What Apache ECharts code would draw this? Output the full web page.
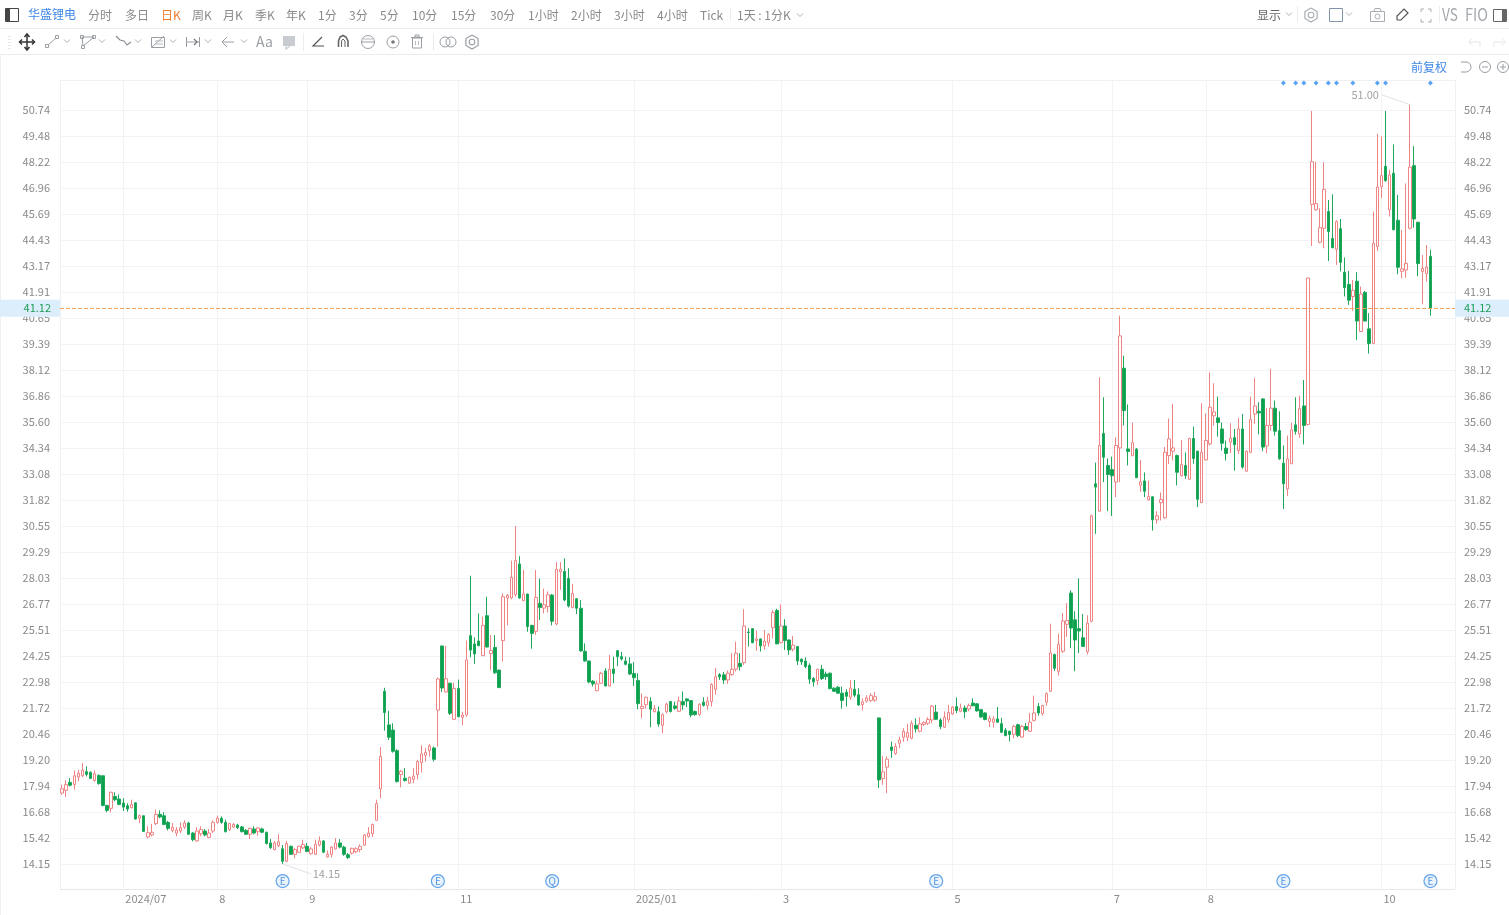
<!DOCTYPE html>
<html><head><meta charset="utf-8">
<style>html,body{margin:0;padding:0;background:#fff}#c{width:1509px;height:915px}</style>
<script src="https://cdn.jsdelivr.net/npm/echarts@6/dist/echarts.min.js"></script>
</head><body><div id="c"></div>
<script>
// candles: [open, close, low, high], in date order
const candles2024a = [[17.59,17.80,17.51,18.00],[17.72,18.0,17.4,18.21],[18.11,17.97,17.92,18.32],[18.01,18.43,17.76,18.69],[18.37,18.56,18.16,18.73],[18.43,18.71,18.37,19.05],[18.63,18.5,18.4,18.89],[18.6,18.3,18.27,18.65],[18.2,18.53,18.14,18.69],[18.45,18.05,18.0,18.5],
[18.43,16.99,16.95,18.45],[16.99,16.75,16.66,17.03],[16.85,17.63,16.66,17.66],[17.43,17.27,17.2,17.63],[17.3,17.04,17.0,17.53],[17.11,16.91,16.72,17.34],[16.98,16.82,16.69,17.1],[16.88,17.04,16.85,17.27],[17.12,16.33,16.3,17.14],[16.37,16.49,16.14,16.56],
[16.49,15.73,15.7,16.5],[15.46,15.67,15.4,15.98],[15.56,15.69,15.49,16.1],[16.11,16.56,16.04,16.79],[16.56,16.43,16.37,16.75],[16.49,16.07,16.03,16.66],[16.17,15.88,15.78,16.24],[15.78,15.93,15.69,16.14],[15.65,15.8,15.49,15.94],[15.75,15.91,15.65,16.17],
[15.94,16.14,15.85,16.27],[16.14,15.59,15.55,16.2],[15.65,15.33,15.25,15.7],[15.27,15.75,15.23,15.94],[15.62,15.82,15.49,15.98],[15.75,15.56,15.49,15.85],[15.44,15.65,15.4,15.85],[15.75,16.17,15.65,16.27],[16.17,16.37,16.1,16.5],[16.37,16.17,16.1,16.46]];
const candles2024b = [[16.17,15.72,15.68,16.3],[15.82,16.11,15.75,16.14],[15.94,16.07,15.9,16.14],[16.04,15.91,15.85,16.1],[15.95,15.72,15.68,16.0],[15.78,15.59,15.56,15.85],[15.59,15.88,15.36,15.91],[15.85,15.65,15.59,15.98],[15.72,15.9,15.52,15.92],[15.85,15.69,15.65,15.91],
[15.69,15.14,15.1,15.72],[15.17,14.94,14.88,15.36],[14.85,15.17,14.81,15.27],[15.04,15.23,14.97,15.59],[14.89,14.28,14.15,15.07],[14.28,15.14,14.25,15.27],[15.01,14.62,14.59,15.04],[14.62,14.85,14.42,14.93],[14.72,15.01,14.68,15.04],[14.93,15.1,14.88,15.33],
[15.01,14.76,14.72,15.17],[14.65,14.88,14.6,14.97],[14.62,15.1,14.59,15.33],[15.07,15.27,15.0,15.49],[15.27,14.72,14.68,15.3],[14.49,14.62,14.46,14.81],[14.62,14.97,14.46,15.0],[14.88,15.17,14.85,15.4],[15.17,14.97,14.91,15.36],[14.97,14.62,14.55,15.04],
[14.6,14.46,14.39,14.68],[14.68,14.91,14.6,14.94],[14.75,14.89,14.68,14.97],[14.85,15.01,14.72,15.1],[15.07,15.56,15.03,15.6],[15.49,15.65,15.43,15.94],[15.62,16.07,15.46,16.11],[16.27,17.08,16.24,17.27],[17.79,19.37,17.34,19.83]];
const candles2024c = [[22.53,21.5,20.62,22.7],[20.9,20.3,20.17,21.59],[20.65,19.62,19.55,20.98],[19.65,18.15,18.1,19.72],[18.49,18.65,17.87,18.71],[18.31,18.2,18.15,18.8],[18.07,18.36,18.04,18.39],[18.26,18.42,18.07,18.8],[18.49,19.12,18.26,19.2],[19.07,19.49,18.59,19.91],
[19.43,19.56,19.12,19.77],[19.65,19.88,19.36,19.98],[19.78,19.23,19.12,19.85]];
const candles2024d = [[21.62,23.13,19.85,23.2],[24.73,22.69,22.5,24.75],[22.5,23.14,22.47,24.73],[22.92,21.46,21.38,22.95],[21.17,22.67,21.14,22.95],[22.67,21.3,21.27,23.1],[21.27,21.38,20.88,21.54],[21.38,24.05,21.3,24.99],[25.23,24.53,24.18,28.14],[24.83,24.34,23.86,25.15],
[24.97,24.74,24.73,26.31],[24.26,25.73,24.24,26.15],[26.2,24.68,24.66,27.12],[24.36,24.52,23.56,25.26],[24.66,23.43,23.37,25.26],[23.56,22.71,22.69,23.58],[24.99,27.12,23.98,27.28],[27.06,27.19,25.73,27.25],[27.06,28.06,26.99,28.87],[27.22,28.88,27.12,30.55],
[28.71,27.06,27.02,29.09],[26.93,27.25,26.91,28.42],[27.25,25.67,25.42,27.27],[25.73,25.34,24.6,25.76],[25.44,27.09,25.26,28.42],[26.8,26.6,25.99,28.0],[26.57,26.73,26.31,27.51],[26.64,27.22,26.35,27.38],[27.2,25.93,25.73,27.25],[25.8,28.45,25.73,28.8],
[28.33,28.45,27.45,28.8],[28.35,26.96,26.9,28.98],[28.01,26.67,26.6,28.5],[26.6,27.28,26.56,27.74],[27.02,26.56,26.28,27.06],[26.56,24.49,24.45,26.96],[24.47,24.0,23.97,24.86],[24.0,22.98,22.92,24.02],[23.02,22.89,22.76,23.08],[22.56,22.89,22.53,23.05]];
const candles2025a = [[22.92,23.4,22.89,23.47],[23.52,22.79,22.76,23.65],[22.79,23.6,22.76,24.29],[23.61,23.4,22.92,24.21],[24.5,24.21,23.76,24.53],[24.21,24.1,24.02,24.44],[24.0,23.84,23.79,24.21],[23.86,23.37,23.32,24.18],[23.39,23.19,22.79,23.95],[23.06,21.93,21.66,23.4],
[21.69,21.8,21.22,22.43],[21.88,22.24,21.69,22.27],[22.04,21.66,20.78,22.24],[21.54,21.69,21.51,21.87],[21.54,20.94,20.81,21.79],[20.88,21.4,20.49,21.46],[21.54,21.91,21.46,21.98],[22.03,21.55,21.5,22.06],[21.82,21.71,21.63,22.03],[21.56,22.06,21.53,22.27],
[22.03,21.87,21.63,22.52],[22.16,22.06,21.76,22.19],[22.08,21.38,21.27,22.11],[21.55,21.4,21.34,21.6],[21.4,21.9,21.34,21.95],[22.0,21.85,21.79,22.24],[21.84,22.05,21.63,22.27],[22.03,22.86,21.79,22.92],[22.63,23.24,22.36,23.65],[23.34,23.23,23.08,23.41],
[23.33,23.08,22.89,23.47],[23.08,23.41,22.89,23.54],[23.34,23.6,23.28,24.38],[23.6,24.38,23.49,24.94],[23.89,23.73,23.54,24.38],[23.92,25.7,23.81,26.51],[25.4,25.38,24.7,25.59],[25.57,24.89,24.86,25.6],[24.99,25.07,24.5,25.47],[25.07,24.73,24.46,25.1]];
const candles2025b = [[24.73,24.96,24.54,25.51],[24.89,25.28,24.7,25.35],[25.62,26.35,25.1,26.48],[26.45,24.83,24.83,26.54],[24.89,25.7,24.86,26.74],[25.7,24.99,24.54,26.03],[25.02,24.54,24.3,25.05],[24.57,24.77,24.46,25.22],[24.7,24.0,23.81,24.73],[24.09,23.96,23.81,24.13],
[24.0,23.73,23.65,24.18],[23.79,23.12,22.89,23.89],[23.15,22.99,22.76,23.22],[23.05,23.6,22.84,23.63],[23.6,23.15,23.08,23.81],[23.37,23.24,23.08,23.49],[23.41,22.66,22.63,23.44],[22.68,22.53,22.5,22.73],[22.73,22.44,22.4,22.79],[22.44,22.08,21.69,22.76],
[22.49,22.29,21.79,22.63],[22.24,22.69,22.11,23.08],[22.63,22.34,22.24,23.08],[22.36,21.87,21.82,22.68],[21.89,22.02,21.6,22.18],[22.05,22.21,21.98,22.34],[22.08,22.32,22.02,22.44],[22.1,22.27,22.02,22.5],[21.24,18.23,17.84,21.24],[18.3,18.62,17.99,19.4],
[18.85,19.24,17.59,19.37],[19.83,19.66,19.3,20.09],[19.51,19.85,19.45,20.01],[20.01,20.17,19.77,20.33],[20.3,20.59,20.08,20.74],[20.3,20.53,20.11,20.95],[20.25,20.98,20.2,21.11],[20.88,20.71,20.53,21.22],[20.59,20.95,20.53,21.27],[20.92,21.01,20.85,21.08]];
const candles2025c = [[20.98,21.17,20.9,21.27],[21.14,21.81,20.98,21.87],[21.52,21.17,21.14,21.87],[21.14,20.82,20.69,21.22],[20.79,21.27,20.75,21.55],[21.14,21.5,21.01,21.87],[21.43,21.76,21.38,21.82],[21.79,21.6,21.47,22.23],[21.56,21.72,21.51,21.93],[21.72,21.54,21.22,21.84],
[21.67,21.84,21.56,21.93],[21.96,21.83,21.8,22.19],[21.92,21.58,21.54,21.96],[21.64,21.28,21.25,21.67],[21.48,21.16,21.12,21.51],[21.07,21.22,20.8,21.35],[21.03,21.19,20.77,21.32],[21.19,21.03,21.0,21.77],[20.96,20.54,20.51,21.24],[20.64,20.38,20.35,20.75],
[20.59,20.43,20.09,20.62],[20.44,20.83,20.25,20.9],[20.91,20.38,20.31,20.96],[20.31,20.83,20.28,20.9],[20.82,20.67,20.61,20.99],[20.59,21.03,20.56,21.48],[21.12,21.48,21.06,22.32],[21.79,21.48,21.35,21.96],[21.45,21.84,21.35,21.88],[22.0,22.42,21.83,22.48],
[22.53,24.39,22.5,25.81],[24.31,23.65,23.52,24.36],[23.5,24.81,23.29,25.33],[24.47,25.94,24.39,26.33],[25.78,25.97,25.17,26.81],[27.3,25.6,24.63,27.43],[26.0,25.02,23.5,26.41],[25.57,25.46,24.39,28.01],[25.13,24.71,24.68,26.28],[24.45,25.84,24.32,26.22],[25.93,31.05,25.88,31.1]];
const candles2025d = [[32.6,32.44,30.17,33.63],[31.27,34.46,31.27,37.77],[35.04,33.89,32.68,36.8],[33.49,33.05,31.27,33.83],[33.29,32.99,31.04,33.92],[32.68,34.46,31.95,34.86],[34.34,39.78,32.68,40.76],[38.21,36.15,35.43,38.82],[34.29,34.17,33.49,36.45],[33.96,34.6,33.96,35.57],
[34.28,32.9,32.87,34.34],[32.53,32.69,32.21,33.76],[32.74,32.24,31.95,33.15],[31.82,31.98,31.79,32.76],[31.97,30.85,30.33,31.98],[30.85,31.05,30.66,31.27],[31.68,31.84,30.82,32.18],[30.95,34.13,30.9,34.38],[33.97,34.78,33.56,35.77],[34.18,34.34,33.73,36.48],
[33.97,33.16,32.52,34.02],[32.99,33.54,32.95,34.73],[33.49,33.0,32.84,34.12],[32.82,34.8,32.79,34.83],[34.8,33.83,33.57,35.38],[34.18,31.85,31.47,34.21],[31.69,34.13,31.66,36.51],[33.76,34.7,33.73,36.02],[34.54,36.32,34.46,38.0],[35.9,36.09,35.43,37.48],
[35.8,35.57,34.89,36.83],[35.26,34.57,34.21,35.57],[34.33,34.07,33.73,34.7],[34.62,34.81,34.09,35.54],[34.84,34.5,33.24,35.26],[34.21,35.26,34.05,35.8],[35.26,33.41,33.33,35.99],[33.21,34.18,33.2,34.21],[34.13,35.72,34.09,36.83],[35.99,36.38,35.51,37.74],
[36.12,36.04,35.0,36.56],[36.72,34.38,34.18,36.75],[34.44,35.43,34.09,36.28],[35.43,36.27,35.18,38.18],[36.27,35.15,34.94,36.64],[35.18,33.81,33.76,36.12],[33.6,32.6,31.38,34.46],[32.35,33.81,32.0,34.94],[33.57,35.22,33.57,35.56],[35.46,35.15,34.99,36.8],[35.02,36.25,34.83,36.88],[36.38,35.43,34.51,37.64],[35.48,42.59,35.43,42.59]];
const candles2025e = [[46.16,48.23,44.14,50.69],[45.9,46.2,45.85,48.23],[44.32,45.03,44.27,45.97],[45.0,46.89,44.03,48.2],[45.81,44.84,43.41,46.37],[44.51,44.06,44.03,46.65],[43.98,45.32,43.22,45.39],[44.98,43.35,42.9,45.45],[42.87,42.12,41.69,43.58],[42.28,41.51,41.28,42.93],
[41.69,41.99,40.99,42.49],[42.43,40.5,39.57,42.87],[39.99,41.81,39.99,42.17],[41.89,40.5,40.47,41.96],[40.12,39.41,38.92,40.88],[39.41,44.27,39.41,45.81],[44.11,47.0,43.9,49.59],[47.02,47.55,46.46,49.46],[48.01,47.31,47.26,50.69],[45.9,47.59,45.57,47.83],
[47.67,44.93,44.9,49.07],[45.39,43.11,42.77,46.62],[42.91,43.03,42.57,44.92],[42.97,43.3,42.6,47.18],[45.0,47.97,44.95,51.0],[48.04,45.45,45.03,48.99],[45.29,43.29,42.67,45.32],[42.9,43.06,41.31,43.7],[42.8,43.12,42.41,44.19],[43.64,41.12,40.76,43.96]];
const candles = [].concat(candles2024a,candles2024b,candles2024c,candles2024d,candles2025a,candles2025b,candles2025c,candles2025d,candles2025e);

// axis
const tickValues = [14.15,15.42,16.68,17.94,19.20,20.46,21.72,22.98,24.25,25.51,26.77,28.03,29.29,30.55,31.82,33.08,34.34,35.60,36.86,38.12,39.39,40.65,41.91,43.17,44.43,45.69,46.96,48.22,49.48,50.74];
const slotCount = 342;
const categories = Array.from({length:slotCount},(_,i)=>String(i));
const monthIndex = [15,38,60,97,140,176,218,257,280,323];
const monthLabels = ['2024/07','8','9','11','2025/01','3','5','7','8','10'];
const lastPrice = 41.12;
const yMin = 12.936, yMax = 52.196;
// event badges and dividend markers
const badgeIndex = [54,92,120,214,299,335];
const badgeText = ['E','E','Q','E','E','E'];
const dotIndex = [299,302,304,307,310,312,316,322,324,335];
const dotPrice = 52.05, badgePrice = 13.32;
const highLeader = [[323,51.48],[330,51.0]];
const lowLeader = [[54,14.15],[61,13.66]];

// toolbar texts
const topLabels = ['分时','多日','日K','周K','月K','季K','年K','1分','3分','5分','10分','15分','30分','1小时','2小时','3小时','4小时','Tick','1天 : 1分K'];
const topX = [88,125,161,192,223,255,286,318,349,380,412,451,490,528,571,614,657,700,737];

const F='"Noto Sans CJK SC","Noto Sans",sans-serif';
const g=[];
const txt=(t,x,y,fill,size,extra)=>g.push({type:'text',silent:true,style:Object.assign({text:t,x,y,fill,font:(size||12)+'px '+F,verticalAlign:'middle'},extra||{})});
const ln=(pts,stroke,w)=>g.push({type:'polyline',silent:true,shape:{points:pts},style:{stroke:stroke||'#999',lineWidth:w||1,fill:null}});
const rc=(x,y,w,h,stroke,fill,lw)=>g.push({type:'rect',silent:true,shape:{x,y,width:w,height:h},style:{stroke:stroke||null,fill:fill||null,lineWidth:lw||1}});
const ci=(cx,cy,r,stroke,fill,lw)=>g.push({type:'circle',silent:true,shape:{cx,cy,r},style:{stroke:stroke||null,fill:fill||null,lineWidth:lw||1}});
const caret=(x,y)=>ln([[x-3,y-1.5],[x,y+1.5],[x+3,y-1.5]],'#aab0b8',1);
const hexa=(x,y,r,c)=>{ln([[x,y-r],[x+r*.87,y-r/2],[x+r*.87,y+r/2],[x,y+r],[x-r*.87,y+r/2],[x-r*.87,y-r/2],[x,y-r]],c,1.2);ci(x,y,r*.4,c,null,1.1)};
// plot frame
ln([[60.5,80],[60.5,889]],'#eef0f3');ln([[60,80.5],[1455,80.5]],'#eef0f3');ln([[1455.5,80],[1455.5,889]],'#eef0f3');ln([[60,889.5],[1455,889.5]],'#e6e8ec');
// dividers
ln([[0,28.5],[1509,28.5]],'#ececec');ln([[0,54.5],[1509,54.5]],'#ececec');ln([[.5,55],[.5,915]],'#f0f0f0');
ln([[730.5,8],[730.5,21]],'#ececec');ln([[1297.5,6],[1297.5,23]],'#ececec');ln([[1439.5,6],[1439.5,23]],'#ececec');ln([[303.5,33],[303.5,51]],'#ececec');ln([[433.5,33],[433.5,51]],'#ececec');
// row 1
rc(5.5,8.5,13,13,'#444');rc(6,9,4,12,null,'#444');
txt('华盛锂电',28,14,'#3f87e5');
topLabels.forEach((t,i)=>txt(t,topX[i],15,t==='日K'?'#f07d2e':'#8a8a8a'));
caret(800,15);
txt('显示',1257,15,'#666');caret(1289,14);hexa(1311,15,7,'#a9adb3');
rc(1329.5,8.5,13,13,'#8295ad');caret(1349,14);
rc(1370.5,11.5,14,10,'#a9adb3');ln([[1374,11],[1375,8.5],[1380,8.5],[1381,11]],'#a9adb3');ci(1377.5,16.5,2.5,'#a9adb3');
ln([[1397,20],[1397,16],[1404,9],[1408,13],[1401,20],[1397,20]],'#555',1.2);
[[1421,9,1],[1431,9,-1]].forEach(([x,y,d])=>{ln([[x,y+3],[x,y],[x+3*d,y]],'#a9adb3');ln([[x,y+10],[x,y+13],[x+3*d,y+13]],'#a9adb3')});
g.push({type:'text',silent:true,x:1442,y:15,scaleX:.8,style:{text:'VS',x:0,y:0,fill:'#a5a9af',font:'17px '+F,verticalAlign:'middle'}});
g.push({type:'text',silent:true,x:1465,y:15,scaleX:.85,style:{text:'FIO',x:0,y:0,fill:'#a5a9af',font:'17px '+F,verticalAlign:'middle'}});
rc(1493.5,9.5,13,12,'#666');rc(1502,10,4,11,null,'#666');
// row 2
[36,39,42,45,48].forEach(y=>ln([[8,y+.5],[11,y+.5]],'#e4e6ea'));
ln([[27,35],[27,49]],'#333',1.5);ln([[20,42],[34,42]],'#333',1.5);
ln([[24.5,37],[27,34],[29.5,37]],'#333',1.5);ln([[24.5,47],[27,50],[29.5,47]],'#333',1.5);ln([[22,39.5],[19.5,42],[22,44.5]],'#333',1.5);ln([[32,39.5],[34.5,42],[32,44.5]],'#333',1.5);
rc(45.5,44.5,3,3,'#9a9ea4');rc(55.5,35.5,3,3,'#9a9ea4');ln([[48,45],[56,38]],'#9a9ea4');caret(67,41);
ln([[82,37],[94,37],[83,46],[82,37]],'#9a9ea4');rc(80.5,35.5,3,3,'#9a9ea4');rc(92.5,35.5,3,3,'#9a9ea4');rc(81.5,45.5,3,3,'#9a9ea4');caret(102,41);
ln([[116,36],[120,40],[124,41],[127,45],[131,42]],'#8a8e94',1.2);caret(138,41);
rc(151.5,37.5,13,10,'#9a9ea4');ln([[152,47],[164,36]],'#9a9ea4');ln([[155,41],[163,41]],'#b5b8bd');ln([[155,44],[163,44]],'#b5b8bd');caret(173,41);
ln([[186.5,37],[186.5,47]],'#9a9ea4');ln([[187,42],[199,42]],'#9a9ea4');ln([[199.5,37],[199.5,47]],'#9a9ea4');ln([[194,39],[197,42],[194,45]],'#777',1.2);caret(208,41);
ln([[222,42],[234,42]],'#9a9ea4');ln([[227,37],[222,42],[227,47]],'#9a9ea4');caret(244,41);
txt('Aa',256,42,'#9a9ea4',14);
rc(283,36,12,10,null,'#c8cbd0');ln([[286,46],[286,49],[290,46]],'#c8cbd0',1.2);
ln([[322,37],[313,46],[324,46]],'#555',1.2);
ln([[338.5,47],[338.5,41],[340,37],[343,35.5],[346,37],[348,41],[348,47]],'#666',1.6);ln([[341.5,47],[341.5,41],[343,39],[345,41],[345,47]],'#666',1);
ci(368,42,6.5,'#9a9ea4');ln([[361,42],[375,42]],'#9a9ea4');ln([[363,39],[373,39]],'#b5b8bd');
ci(393,42,6,'#9a9ea4');ci(393,42,1.8,null,'#777');
ln([[411,37.5],[423,37.5]],'#9a9ea4');rc(412.5,38,9,10,'#9a9ea4');rc(415,35,4,2,'#9a9ea4');ln([[415.5,41],[415.5,45]],'#b5b8bd');ln([[418.5,41],[418.5,45]],'#b5b8bd');
ci(445,42,5,'#9a9ea4');ci(451,42,5,'#9a9ea4');hexa(472,42,7,'#9a9ea4');
ln([[1469,42],[1480,42],[1480,47]],'#e4e6ea');ln([[1472,38.5],[1468.5,42],[1472,45.5]],'#e4e6ea');
ln([[1505,42],[1494,42],[1494,47]],'#e4e6ea');ln([[1502,38.5],[1505.5,42],[1502,45.5]],'#e4e6ea');
// row 3
txt('前复权',1411,67,'#3f87e5');
g.push({type:'arc',silent:true,shape:{cx:1466,cy:67,r:5,startAngle:-1.6,endAngle:1.6},style:{stroke:'#9a9ea4',fill:null}});ln([[1461,62],[1466,62]],'#9a9ea4');ln([[1461,72],[1466,72]],'#9a9ea4');
ci(1485,67,5.5,'#9a9ea4');ln([[1482,67],[1488,67]],'#9a9ea4');
ci(1503,67,5.5,'#9a9ea4');ln([[1500,67],[1506,67]],'#9a9ea4');ln([[1503,64],[1503,70]],'#9a9ea4');

const monthSet = new Set(monthIndex);
const noteLabel = {color:'#8a8a8a',fontSize:11,fontFamily:F};
const chart = echarts.init(document.getElementById('c'),null,{renderer:'canvas'});
const yAxisCommon = {type:'value',min:yMin,max:yMax,scale:true,
  axisLine:{show:false},
  axisTick:{show:false,customValues:tickValues}};
const yLabel = {customValues:tickValues,formatter:v=>v.toFixed(2),color:'#8a8a8a',fontSize:11,fontFamily:F,showMinLabel:true,showMaxLabel:true};
chart.setOption({
  animation:false,backgroundColor:'#fff',
  graphic:{elements:g},
  grid:{left:60,right:52,top:80,bottom:26,show:false,containLabel:false},
  xAxis:{type:'category',data:categories,boundaryGap:true,
    axisLine:{show:false},axisTick:{show:false},
    axisLabel:{interval:(i)=>monthSet.has(i),formatter:(v,i)=>{const k=monthIndex.indexOf(i);return k>=0?monthLabels[k]:''},color:'#8a8a8a',fontSize:11,fontFamily:F,align:'left',margin:4,padding:[0,0,0,2],hideOverlap:false},
    splitLine:{show:true,interval:(i)=>monthSet.has(i),alignWithLabel:true,lineStyle:{color:'#f1f3f6',width:1}}},
  yAxis:[
    Object.assign({},yAxisCommon,{position:'left',axisLabel:Object.assign({},yLabel,{margin:10}),splitLine:{show:true,lineStyle:{color:'#f1f3f6',width:1}}}),
    Object.assign({},yAxisCommon,{position:'right',axisLabel:Object.assign({},yLabel,{margin:7}),splitLine:{show:false}})
  ],
  series:[
    {type:'candlestick',data:candles,barWidth:3,
      itemStyle:{color:'#ffffff',color0:'#0ba14e',borderColor:'#ee8484',borderColor0:'#1fa85c',borderWidth:1},
      markLine:{silent:true,symbol:'none',animation:false,precision:2,
        lineStyle:{color:'#f3a35c',type:'dashed',width:1},
        data:[
          {yAxis:lastPrice,label:{show:true,position:'start',distance:0,formatter:lastPrice.toFixed(2),color:'#1f9d55',fontSize:11,fontFamily:F,backgroundColor:'#dcedfb',padding:[3,9,3,30]}},
          {yAxis:lastPrice,label:{show:true,position:'end',distance:-2,formatter:lastPrice.toFixed(2),color:'#1f9d55',fontSize:11,fontFamily:F,backgroundColor:'#dcedfb',padding:[3,30,3,9]}}
        ]}},
    {type:'scatter',symbol:'diamond',symbolSize:5,itemStyle:{color:'#2f8cf0'},data:dotIndex.map(i=>[i,dotPrice]),silent:true},
    {type:'scatter',symbol:'circle',symbolSize:13,silent:true,
      itemStyle:{color:'#e4f0fd',borderColor:'#3f8fe6',borderWidth:1.2},
      label:{show:true,position:'inside',formatter:p=>badgeText[p.dataIndex],color:'#2f80d8',fontSize:10,fontFamily:F},
      data:badgeIndex.map(i=>[i,badgePrice])},
    {type:'line',silent:true,data:highLeader,symbol:'none',lineStyle:{color:'#dfe2e6',width:1}},
    {type:'line',silent:true,data:lowLeader,symbol:'none',lineStyle:{color:'#dfe2e6',width:1}},
    {type:'scatter',silent:true,symbol:'circle',symbolSize:1,itemStyle:{color:'rgba(0,0,0,0)'},
      data:[{value:highLeader[0],label:{show:true,position:'left',distance:2,formatter:'51.00',...noteLabel}},
            {value:lowLeader[1],label:{show:true,position:'right',distance:1,formatter:'14.15',...noteLabel}}]}
  ]
});
</script></body></html>
